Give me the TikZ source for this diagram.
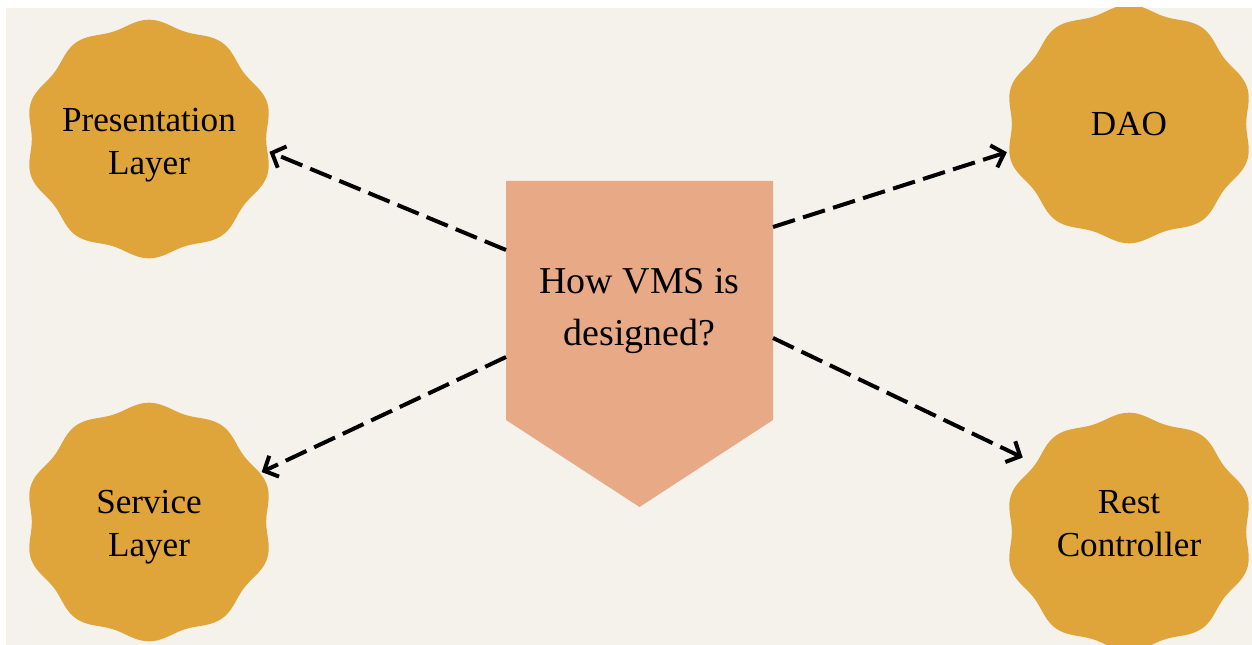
\documentclass[tikz,border=0pt]{standalone}
\usepackage{fontspec}
\setmainfont{Liberation Serif}
\usetikzlibrary{arrows.meta}
\definecolor{bgcream}{HTML}{F5F2EC}
\definecolor{gold}{HTML}{DFA43A}
\definecolor{salmon}{HTML}{E8AA86}

\begin{document}
\begin{tikzpicture}[x=0.2mm,y=-0.2mm,
  blob/.style={circle,minimum size=50mm,inner sep=0pt,align=center,
    font=\fontsize{20}{24.5}\selectfont},
  link/.style={line width=0.8mm,dash pattern=on 4.6mm off 1.7mm,
    -{Straight Barb[length=2.2mm,width=4.6mm]}}]
\useasboundingbox (0,0) rectangle (1252,645);
\fill[white] (0,0) rectangle (1252,645);
\fill[bgcream] (6,8) rectangle (1252,645);
\begin{scope}
\clip (6,8) rectangle (1252,645);
\foreach \cx/\cy in {149/139,149/522,1129/124,1129/532}
  \fill[gold,shift={(\cx,\cy)},xscale=1.04] plot[domain=0:360,samples=241]
    (\x:{116+3.3*cos(10*(\x-90))}) -- cycle;
\end{scope}
\fill[salmon] (506,181) -- (773,181) -- (773,420) -- (639.5,507) -- (506,420) -- cycle;
\node[blob] (pl) at (149,145) {Presentation\\Layer};
\node[blob] (sl) at (149,527) {Service\\Layer};
\node[blob] (dao) at (1129,124) {DAO};
\node[blob] (rc) at (1129,524) {Rest\\Controller};
\node[align=center,font=\fontsize{21.6}{30}\selectfont] (q) at (639.5,311) {How VMS is\\designed?};
\coordinate (q1) at (506,250);
\coordinate (q2) at (506,357);
\coordinate (q3) at (773,227);
\coordinate (q4) at (773,338);
\draw[link,shorten >=-1mm] (q1) -- (pl.-4);
\draw[link] (q2) -- (sl.26);
\draw[link] (q3) -- (dao.-167);
\draw[link] (q4) -- (rc.148);
\end{tikzpicture}
\end{document}
